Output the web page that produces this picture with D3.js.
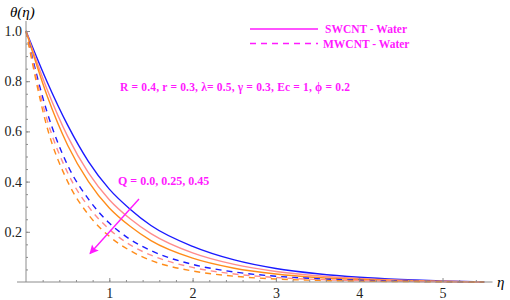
<!DOCTYPE html>
<html>
<head>
<meta charset="utf-8">
<script src="https://cdn.jsdelivr.net/npm/d3@7"></script>
<style>
    body { margin: 0; background: #fff; }
    svg { display: block; }
    .note { font-family: "Liberation Serif", serif; font-weight: bold; fill: #ff1aff; }
    .tickText { font-family: "Liberation Serif", serif; font-size: 14px; fill: #222; }
</style>
</head>
<body>
<div id="chart"></div>
<script>

// eta grid shared by all curves
let etaValues = [0, 0.25, 0.5, 0.75, 1, 1.25, 1.5, 2, 2.5, 3, 3.5, 4, 4.5, 5, 5.5];

// SWCNT - Water (solid), Q = 0.0, 0.25, 0.45
let swcntQ0  = [1, 0.80, 0.625, 0.48, 0.37, 0.29, 0.225, 0.142, 0.088, 0.054, 0.033, 0.019, 0.010, 0.004, 0];
let swcntQ25 = [1, 0.77, 0.58, 0.435, 0.328, 0.252, 0.193, 0.116, 0.070, 0.042, 0.025, 0.014, 0.007, 0.003, 0];
let swcntQ45 = [1, 0.745, 0.545, 0.40, 0.295, 0.222, 0.165, 0.095, 0.055, 0.032, 0.018, 0.010, 0.005, 0.002, 0];

// MWCNT - Water (dashed)
let mwcntQ0  = [1, 0.68, 0.465, 0.33, 0.235, 0.17, 0.125, 0.07, 0.04, 0.023, 0.013, 0.007, 0.0035, 0.0015, 0];
let mwcntQ25 = [1, 0.65, 0.435, 0.30, 0.21, 0.148, 0.107, 0.058, 0.032, 0.018, 0.010, 0.0055, 0.003, 0.0012, 0];
let mwcntQ45 = [1, 0.62, 0.40, 0.268, 0.182, 0.125, 0.086, 0.044, 0.023, 0.012, 0.0065, 0.0035, 0.0018, 0.0008, 0];

let qColors = ["#1a1aff", "#ff8c8c", "#ff8c1a"];

let xTicks = [1, 2, 3, 4, 5];
let yTicks = [0.2, 0.4, 0.6, 0.8, 1.0];

let paramText = "R = 0.4, r = 0.3, λ= 0.5, γ = 0.3, Ec = 1, ϕ = 0.2";
let qText = "Q = 0.0, 0.25, 0.45";
let legendLabels = ["SWCNT - Water", "MWCNT - Water"];

// build series list
let series = [];
[swcntQ0, swcntQ25, swcntQ45].forEach((vals, i) => series.push({vals: vals, color: qColors[i], dashed: false}));
[mwcntQ0, mwcntQ25, mwcntQ45].forEach((vals, i) => series.push({vals: vals, color: qColors[i], dashed: true}));

let width = 510, height = 300;
let axisColor = "#8c8c8c";
let serif = "'Liberation Serif', serif";

let svg = d3.select("#chart").append("svg")
    .attr("width", width)
    .attr("height", height);

// scales
let x = d3.scaleLinear().domain([0, 5.6]).range([26, 492.5]);
let y = d3.scaleLinear().domain([0, 1]).range([282, 31]);

// curves
let line = d3.line()
    .x((d, i) => x(etaValues[i]))
    .y(d => y(d))
    .curve(d3.curveMonotoneX);

svg.selectAll(".curve")
    .data(series)
    .enter()
    .append("path")
    .attr("class", "curve")
    .attr("d", d => line(d.vals))
    .attr("fill", "none")
    .attr("stroke", d => d.color)
    .attr("stroke-width", 1.4)
    .attr("stroke-dasharray", d => d.dashed ? "6,5" : null);

function styleAxis(g) {
    g.select(".domain").remove();
    g.attr("font-family", null).attr("font-size", null);
    g.selectAll("line").attr("stroke", axisColor);
    g.selectAll("text")
        .attr("class", "tickText")
        .attr("fill", null);
}

// x axis
let xAxisG = svg.append("g")
    .attr("transform", "translate(0," + y(0) + ")");

xAxisG.append("line")
    .attr("x1", 17).attr("x2", x(5.6))
    .attr("stroke", axisColor);

xAxisG.append("g")
    .call(d3.axisBottom(x).tickValues(d3.range(0.2, 5.5, 0.2)).tickSize(-2).tickFormat(""))
    .call(styleAxis);

xAxisG.append("g")
    .call(d3.axisBottom(x).tickValues(xTicks).tickSize(-4).tickPadding(6).tickFormat(d3.format("d")))
    .call(styleAxis);

// y axis
let yAxisG = svg.append("g")
    .attr("transform", "translate(" + x(0) + ",0)");

yAxisG.append("line")
    .attr("y1", y(0)).attr("y2", y(1.04))
    .attr("stroke", axisColor);

yAxisG.append("g")
    .call(d3.axisLeft(y).tickValues(d3.range(0.05, 1.01, 0.05)).tickSize(-2).tickFormat(""))
    .call(styleAxis);

yAxisG.append("g")
    .call(d3.axisLeft(y).tickValues(yTicks).tickSize(-4).tickPadding(4).tickFormat(d3.format(".1f")))
    .call(styleAxis);

// axis titles
svg.append("text")
    .attr("x", 10).attr("y", 17)
    .style("font-family", serif)
    .style("font-style", "italic")
    .style("font-size", "15px")
    .text("θ(η)");

svg.append("text")
    .attr("x", 497).attr("y", 287)
    .style("font-family", serif)
    .style("font-style", "italic")
    .style("font-size", "15px")
    .text("η");

// legend
legendLabels.forEach((lab, i) => {
    let ly = 29 + i * 14.5;
    svg.append("line")
        .attr("x1", 250).attr("x2", 318)
        .attr("y1", ly).attr("y2", ly)
        .attr("stroke", "#ff1aff")
        .attr("stroke-width", 1.4)
        .attr("stroke-dasharray", i == 1 ? "6,5" : null);
    svg.append("text")
        .attr("class", "note")
        .attr("x", i == 0 ? 325 : 323).attr("y", ly + 4)
        .style("font-size", "11.5px")
        .text(lab);
});

// parameter note
svg.append("text")
    .attr("class", "note")
    .attr("x", 120).attr("y", 91)
    .style("font-size", "11.5px")
    .attr("textLength", 230)
    .text(paramText);

// Q note and arrow
svg.append("text")
    .attr("class", "note")
    .attr("x", 118).attr("y", 185)
    .style("font-size", "12px")
    .text(qText);

svg.append("defs").append("marker")
    .attr("id", "arrowHead")
    .attr("viewBox", "0 0 10 10")
    .attr("refX", 9).attr("refY", 5)
    .attr("markerWidth", 11).attr("markerHeight", 9)
    .attr("markerUnits", "userSpaceOnUse")
    .attr("orient", "auto")
    .append("path")
    .attr("d", "M0,0 L10,5 L0,10 L2,5 Z")
    .attr("fill", "#ff1aff");

svg.append("line")
    .attr("x1", 139).attr("y1", 199)
    .attr("x2", 90).attr("y2", 253.5)
    .attr("stroke", "#ff1aff")
    .attr("stroke-width", 1.4)
    .attr("marker-end", "url(#arrowHead)");

</script>
</body>
</html>
